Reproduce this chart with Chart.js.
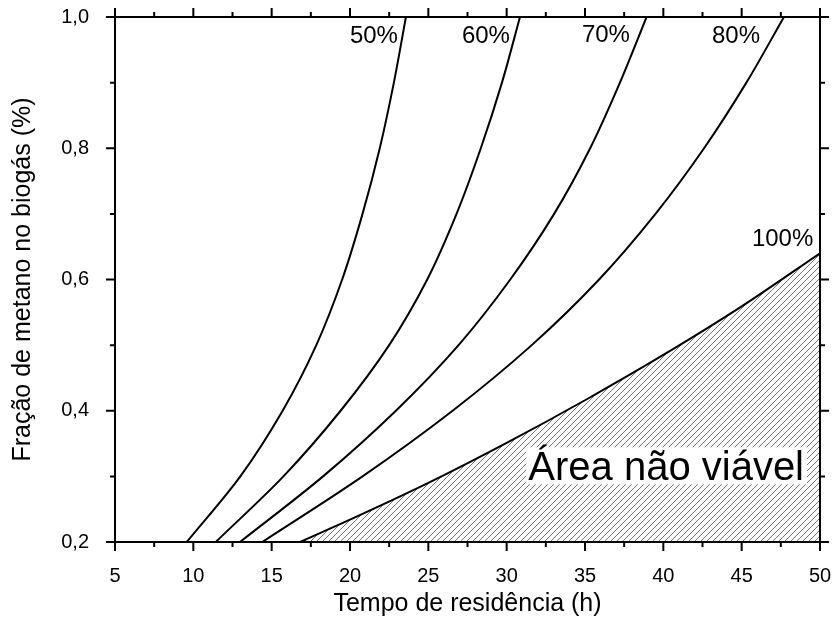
<!DOCTYPE html>
<html>
<head>
<meta charset="utf-8">
<script src="https://cdn.jsdelivr.net/npm/chart.js@4.4.1/dist/chart.umd.min.js"></script>
<style>
  html, body { margin: 0; padding: 0; background: #fff; }
  canvas { display: block; }
</style>
</head>
<body>
<canvas id="chart" width="833" height="623"></canvas>
<script>
// níveis de fração de metano em que as curvas foram lidas
const fracLevels = [0.2, 0.3, 0.4, 0.5, 0.6, 0.7, 0.8, 0.9, 1.0];
// tempo de residência (h) de cada curva nesses níveis
const tempo50 = [9.58, 13.0, 15.7, 17.85, 19.5, 20.8, 21.9, 22.8, 23.57];
const tempo60 = [11.43, 15.75, 19.4, 22.5, 24.93, 26.8, 28.35, 29.7, 30.85];
const tempo70 = [12.98, 18.28, 22.93, 26.93, 30.23, 33.03, 35.33, 37.23, 38.93];
const tempo80 = [14.4, 20.8, 26.55, 31.6, 35.9, 39.5, 42.6, 45.3, 47.7];
// curva de 100% (limite da área não viável)
const tempo100 = [16.8, 20, 25, 30, 35, 40, 45, 50];
const frac100 = [0.2, 0.234, 0.29, 0.351, 0.416, 0.485, 0.559, 0.64];

const curveLabels = ['50%', '60%', '70%', '80%', '100%'];
const areaLabel = 'Área não viável';
const xTicks = [5, 10, 15, 20, 25, 30, 35, 40, 45, 50];
const xMinor = [7.5, 12.5, 17.5, 22.5, 27.5, 32.5, 37.5, 42.5, 47.5];
const yTicks = [0.2, 0.4, 0.6, 0.8, 1.0];
const yMinor = [0.3, 0.5, 0.7, 0.9];

Chart.defaults.font.family = '"Liberation Sans", Arial, sans-serif';
Chart.defaults.color = '#000';

function pts(xs, ys) {
  return xs.map((x, i) => ({ x: x, y: ys[i] }));
}

function hatch() {
  const c = document.createElement('canvas');
  c.width = 6; c.height = 6;
  const g = c.getContext('2d');
  g.strokeStyle = '#666';
  g.lineWidth = 0.9;
  g.beginPath();
  g.moveTo(0, 6); g.lineTo(6, 0);
  g.moveTo(-1, 1); g.lineTo(1, -1);
  g.moveTo(5, 7); g.lineTo(7, 5);
  g.stroke();
  return g.createPattern(c, 'repeat');
}

// as curvas de 50–80% são funções da fração (eixo y), daí indexAxis 'y'
const curve = (data, axis) => ({
  data: data,
  indexAxis: axis,
  showLine: true,
  borderColor: '#000',
  borderWidth: 2,
  pointRadius: 0,
  cubicInterpolationMode: 'monotone',
  fill: false,
});

// textos sobre o gráfico (posição em coordenadas dos eixos)
const notes = [
  { text: curveLabels[0], x: 23.06, y: 0.961 },
  { text: curveLabels[1], x: 30.21, y: 0.961 },
  { text: curveLabels[2], x: 37.87, y: 0.962 },
  { text: curveLabels[3], x: 46.17, y: 0.961 },
  { text: curveLabels[4], x: 49.57, y: 0.651 },
];

const noPad = (s) => {
  s.paddingLeft = 0; s.paddingRight = 0; s.paddingTop = 0; s.paddingBottom = 0;
};

const framePlugin = {
  id: 'frame',
  afterDatasetsDraw(chart) {
    const ctx = chart.ctx;
    const sx = chart.scales.x, sy = chart.scales.y;
    ctx.save();
    ctx.fillStyle = '#000';
    ctx.font = '24px "Liberation Sans", Arial, sans-serif';
    ctx.textAlign = 'right';
    ctx.textBaseline = 'alphabetic';
    notes.forEach(n => {
      ctx.fillText(n.text, sx.getPixelForValue(n.x), sy.getPixelForValue(n.y));
    });

    ctx.font = '40px "Liberation Sans", Arial, sans-serif';
    ctx.textAlign = 'left';
    const ax = sx.getPixelForValue(31.38), ay = sy.getPixelForValue(0.294);
    const w = ctx.measureText(areaLabel).width;
    ctx.fillStyle = '#fff';
    ctx.fillRect(ax - 2, ay - 33, w + 5, 37);
    ctx.fillStyle = '#000';
    ctx.fillText(areaLabel, ax, ay);
    ctx.restore();
  },
  afterDraw(chart) {
    const ctx = chart.ctx;
    const { left, right, top, bottom } = chart.chartArea;
    const sx = chart.scales.x, sy = chart.scales.y;
    ctx.save();
    ctx.strokeStyle = '#000';
    ctx.lineWidth = 2;
    ctx.strokeRect(left, top, right - left, bottom - top);
    ctx.beginPath();
    const xt = (v, len) => {
      const p = sx.getPixelForValue(v);
      ctx.moveTo(p, bottom); ctx.lineTo(p, bottom + len);
      ctx.moveTo(p, top); ctx.lineTo(p, top - len);
    };
    const yt = (v, len) => {
      const p = sy.getPixelForValue(v);
      ctx.moveTo(left, p); ctx.lineTo(left - len, p);
      ctx.moveTo(right, p); ctx.lineTo(right + len, p);
    };
    xTicks.forEach(v => xt(v, 9));
    xMinor.forEach(v => xt(v, 5));
    yTicks.forEach(v => yt(v, 9));
    yMinor.forEach(v => yt(v, 5));
    ctx.stroke();
    ctx.restore();
  }
};

new Chart(document.getElementById('chart'), {
  type: 'scatter',
  data: {
    datasets: [
      curve(pts(tempo50, fracLevels), 'y'),
      curve(pts(tempo60, fracLevels), 'y'),
      curve(pts(tempo70, fracLevels), 'y'),
      curve(pts(tempo80, fracLevels), 'y'),
      Object.assign(curve(pts(tempo100, frac100), 'x'), {
        fill: 'start',
        backgroundColor: hatch(),
      }),
    ],
  },
  options: {
    responsive: false,
    animation: false,
    layout: { padding: { left: 0, right: 13, top: 17, bottom: 0 } },
    plugins: { legend: { display: false }, tooltip: { enabled: false } },
    scales: {
      x: {
        type: 'linear',
        min: 5,
        max: 50,
        grid: { display: false },
        border: { display: false },
        afterBuildTicks: (s) => { s.ticks = xTicks.map(v => ({ value: v })); },
        afterFit: (s) => { s.height = 81; noPad(s); },
        ticks: { autoSkip: false, maxRotation: 0, padding: 14, font: { size: 20 } },
        title: {
          display: true,
          text: 'Tempo de residência (h)',
          font: { size: 25 },
          padding: { top: 0, bottom: 4 },
        },
      },
      y: {
        type: 'linear',
        min: 0.2,
        max: 1.0,
        grid: { display: false },
        border: { display: false },
        afterBuildTicks: (s) => { s.ticks = yTicks.map(v => ({ value: v })); },
        afterFit: (s) => { s.width = 115; noPad(s); },
        ticks: {
          autoSkip: false,
          padding: 18,
          font: { size: 20 },
          callback: (v) => v.toFixed(1).replace('.', ','),
        },
        title: {
          display: true,
          text: 'Fração de metano no biogás (%)',
          font: { size: 25 },
          padding: { top: 8, bottom: 0 },
        },
      },
    },
  },
  plugins: [framePlugin],
});
</script>
</body>
</html>
